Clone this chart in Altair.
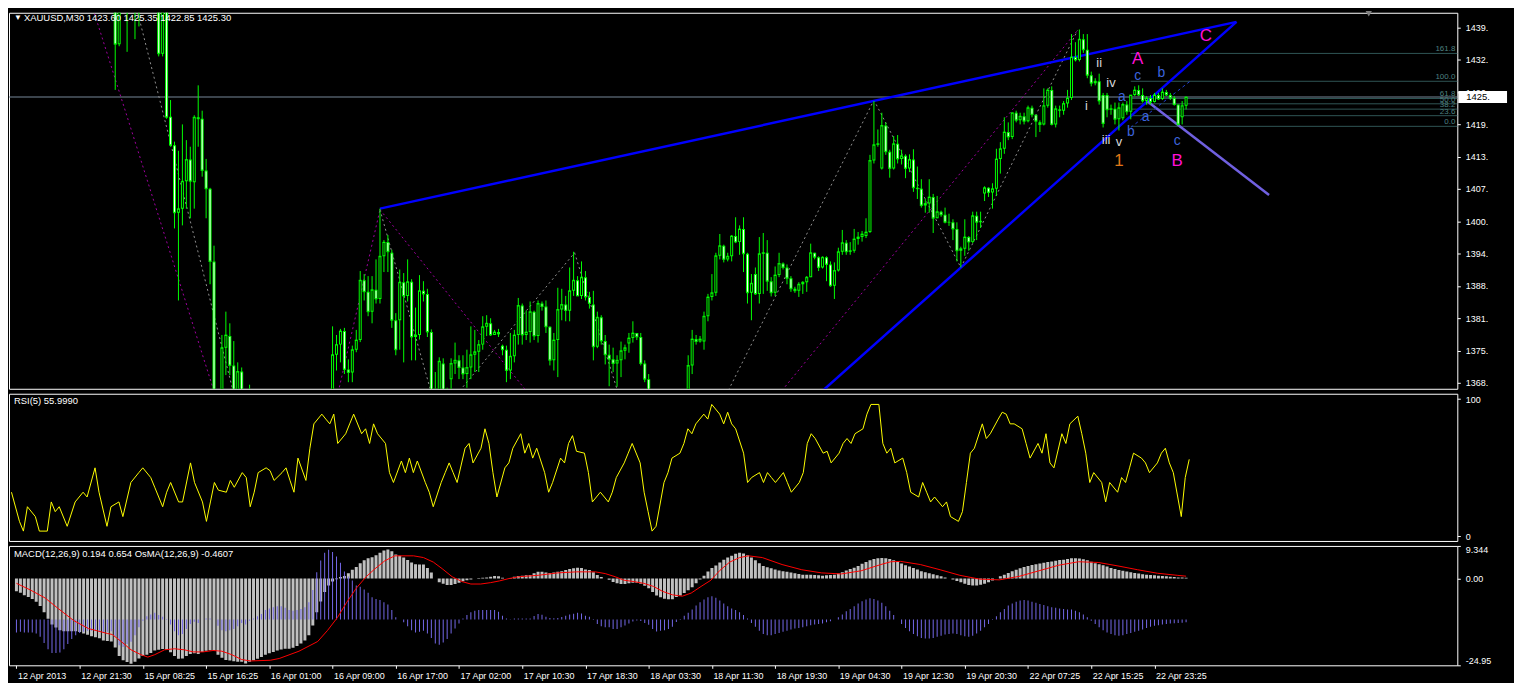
import json
import altair as alt
import pandas as pd

# ---------------- data ----------------
SYMBOL = "XAUUSD,M30"

open_ = [
1478.0,1477.0,1478.0,1475.0,1476.0,1473.0,1474.0,1472.0,1470.0,1471.0,
1468.0,1469.0,1470.0,1466.0,1467.0,1465.0,1468.0,1466.0,1471.0,1474.0,
1476.0,1470.0,1462.0,1455.0,1449.0,1448.0,1435.7,1445.0,1447.0,1444.0,
1446.0,1445.0,1447.0,1450.0,1453.0,1451.0,1448.0,1433.8,1443.0,1421.4,
1415.8,1402.5,1403.3,1408.7,1413.0,1408.5,1421.3,1421.0,1410.8,1407.2,
1392.9,1362.0,1366.0,1375.9,1378.2,1372.4,1366.0,1371.2,1366.5,1362.0,
1360.0,1355.0,1348.0,1340.0,1335.0,1330.0,1325.0,1328.0,1335.0,1338.0,
1342.0,1340.0,1345.0,1350.0,1348.0,1352.0,1355.0,1358.0,1356.0,1360.0,
1362.0,1374.5,1376.5,1379.2,1371.6,1371.0,1375.5,1377.4,1389.2,1386.9,
1383.0,1387.3,1385.5,1393.9,1396.7,1394.6,1381.3,1381.3,1388.8,1386.1,
1388.9,1378.0,1378.4,1387.1,1386.5,1379.0,1366.0,1366.0,1372.8,1366.0,
1369.7,1372.8,1373.4,1372.0,1370.7,1372.0,1374.5,1375.1,1376.5,1380.0,
1380.7,1378.4,1379.0,1376.3,1375.5,1371.4,1374.2,1378.4,1384.2,1378.4,
1379.0,1383.0,1378.2,1384.6,1384.0,1380.0,1373.4,1377.4,1383.4,1384.4,
1383.2,1387.1,1389.2,1386.1,1389.8,1385.9,1384.4,1376.1,1381.9,1377.2,
1374.5,1373.6,1372.8,1373.4,1375.3,1376.7,1377.8,1378.8,1378.0,1372.8,
1369.7,1366.0,1363.0,1360.0,1358.0,1361.0,1359.0,1357.0,1360.0,1362.0,
1364.0,1372.4,1377.6,1377.1,1377.1,1382.1,1385.9,1386.7,1394.0,1396.0,
1393.3,1393.9,1397.9,1396.7,1399.3,1394.4,1386.7,1390.4,1386.5,1394.4,
1394.6,1389.0,1386.7,1390.2,1392.5,1391.7,1389.6,1387.5,1387.1,1388.4,
1388.8,1389.8,1394.6,1393.7,1391.7,1393.7,1392.3,1388.1,1391.1,1394.8,
1396.6,1394.8,1395.0,1397.3,1397.7,1397.9,1398.7,1412.8,1415.9,1411.2,
1419.7,1414.5,1411.2,1416.1,1413.1,1413.7,1411.2,1413.0,1407.4,1407.2,
1403.9,1404.3,1405.6,1401.4,1402.7,1402.1,1400.6,1400.6,1399.3,1395.0,
1395.4,1397.7,1396.7,1401.9,1400.6,1406.3,1407.4,1406.5,1407.2,1413.1,
1415.1,1418.4,1417.4,1422.2,1420.7,1421.5,1420.5,1423.2,1421.8,1420.3,
1419.9,1423.6,1426.7,1419.9,1422.6,1422.6,1424.0,1425.1,1433.2,1432.6,
1436.7,1434.6,1429.6,1428.0,1428.4,1425.7,1425.7,1422.8,1423.0,1420.9,
1421.1,1423.8,1422.4,1425.7,1426.7,1425.7,1424.5,1425.1,1424.3,1425.7,
1424.9,1426.3,1425.7,1425.1,1423.8,1421.3,1423.60]

high = [
1481.0,1480.0,1479.5,1478.0,1477.0,1476.0,1475.0,1473.5,1473.0,1472.0,
1470.5,1472.0,1471.0,1469.0,1468.0,1469.5,1469.0,1472.5,1475.0,1478.0,
1479.0,1471.0,1464.0,1457.0,1452.0,1452.0,1447.0,1450.0,1449.0,1448.0,
1450.0,1451.0,1452.0,1455.0,1456.0,1454.0,1449.0,1445.0,1444.0,1424.7,
1416.5,1414.7,1419.9,1416.8,1415.5,1421.7,1427.6,1422.6,1413.1,1407.4,
1396.0,1367.0,1378.4,1383.0,1380.7,1377.2,1373.0,1372.0,1367.5,1368.6,
1362.0,1357.0,1350.0,1342.0,1337.0,1333.0,1330.0,1337.0,1340.0,1344.0,
1343.0,1347.0,1352.0,1351.0,1354.0,1357.0,1360.0,1359.0,1362.0,1364.0,
1380.1,1378.4,1379.6,1379.8,1373.6,1376.3,1379.4,1391.0,1390.4,1390.0,
1390.0,1393.3,1403.3,1397.1,1398.1,1395.2,1382.7,1391.3,1390.6,1393.3,
1389.4,1383.8,1390.2,1389.0,1387.5,1379.5,1371.1,1374.0,1373.8,1368.0,
1373.8,1376.9,1374.4,1374.4,1375.5,1380.1,1379.4,1377.4,1382.1,1382.3,
1381.7,1379.4,1379.6,1376.5,1376.3,1378.8,1379.4,1385.7,1384.6,1383.2,
1385.0,1383.2,1385.2,1385.0,1385.2,1380.1,1378.8,1387.7,1387.5,1386.1,
1391.7,1394.8,1390.0,1392.9,1391.0,1386.9,1387.1,1383.0,1382.3,1378.4,
1376.5,1375.9,1374.4,1377.1,1376.5,1378.8,1381.1,1378.8,1378.8,1373.4,
1370.7,1367.0,1364.0,1361.0,1362.5,1362.0,1360.0,1361.0,1363.0,1365.0,
1374.4,1379.4,1378.4,1378.2,1383.0,1386.5,1390.4,1394.6,1398.3,1396.2,
1394.6,1398.1,1401.6,1400.0,1401.6,1394.6,1390.4,1391.7,1397.7,1398.5,
1397.1,1389.8,1391.9,1394.6,1392.7,1392.3,1390.0,1387.9,1388.8,1389.0,
1390.0,1396.4,1394.6,1393.9,1393.9,1393.9,1392.9,1392.7,1395.6,1399.1,
1397.1,1396.7,1399.3,1398.7,1398.9,1401.4,1413.9,1424.5,1418.9,1422.2,
1420.3,1414.9,1417.6,1417.8,1414.9,1414.0,1414.0,1415.0,1411.6,1409.1,
1405.2,1409.1,1406.2,1405.8,1402.9,1403.5,1402.3,1401.2,1400.6,1395.8,
1401.2,1397.9,1402.7,1402.7,1402.7,1407.7,1407.5,1408.3,1415.1,1416.4,
1421.3,1420.3,1422.2,1422.6,1422.2,1422.2,1423.6,1423.6,1421.8,1420.7,
1427.0,1427.0,1427.4,1423.6,1423.6,1424.5,1426.7,1437.7,1436.1,1438.6,
1437.7,1437.7,1430.3,1429.0,1429.9,1426.1,1426.1,1423.8,1424.2,1424.2,
1424.2,1424.5,1425.7,1427.4,1427.6,1427.0,1425.5,1425.7,1426.1,1426.1,
1427.0,1426.7,1426.1,1425.5,1423.8,1424.5,1425.35]

low = [
1475.0,1474.5,1473.0,1473.5,1471.5,1472.0,1470.0,1468.5,1469.0,1466.5,
1466.0,1468.0,1465.0,1464.5,1463.0,1464.0,1464.5,1465.5,1470.0,1473.0,
1469.0,1460.0,1453.0,1447.0,1445.0,1426.7,1435.3,1443.0,1434.2,1443.0,
1436.7,1439.2,1444.0,1448.0,1449.0,1446.0,1433.3,1433.3,1421.0,1415.5,
1399.4,1385.2,1400.0,1403.3,1401.4,1403.3,1415.5,1409.6,1401.4,1388.4,
1358.0,1356.0,1364.0,1370.5,1370.5,1363.0,1364.0,1363.0,1360.0,1358.0,
1352.0,1346.0,1338.0,1332.0,1327.0,1322.0,1323.0,1327.0,1333.0,1336.0,
1337.0,1339.0,1344.0,1346.0,1347.0,1351.0,1354.0,1354.0,1355.0,1359.0,
1360.0,1371.4,1373.0,1370.7,1369.1,1369.1,1375.0,1377.0,1385.2,1382.1,
1380.7,1384.6,1384.6,1390.8,1390.8,1379.8,1374.4,1375.5,1373.0,1385.0,
1373.4,1373.4,1377.5,1385.0,1378.0,1364.0,1361.0,1364.0,1364.0,1363.0,
1367.0,1370.7,1369.7,1369.7,1368.0,1369.7,1371.1,1371.1,1375.5,1378.2,
1378.2,1378.4,1378.0,1374.4,1369.1,1369.7,1373.0,1376.5,1376.5,1377.4,
1376.9,1377.4,1376.9,1383.2,1378.8,1372.4,1371.4,1370.1,1381.3,1381.1,
1381.1,1386.1,1386.1,1385.5,1385.2,1383.6,1373.4,1375.8,1376.5,1372.6,
1368.3,1371.1,1368.2,1370.1,1373.6,1374.9,1376.9,1377.4,1372.4,1369.1,
1364.0,1361.0,1358.0,1356.0,1357.0,1357.5,1355.0,1356.0,1359.0,1361.0,
1362.0,1370.7,1376.5,1376.9,1375.5,1381.1,1385.2,1386.1,1393.3,1392.7,
1392.9,1392.9,1396.5,1394.2,1390.8,1384.6,1381.3,1386.3,1384.6,1386.5,
1387.1,1386.0,1386.1,1389.8,1391.3,1388.4,1386.9,1386.7,1385.9,1386.5,
1386.9,1389.8,1393.3,1391.0,1391.5,1389.0,1387.9,1385.5,1390.9,1394.2,
1394.2,1394.2,1394.6,1396.2,1396.8,1397.5,1398.5,1412.2,1415.5,1411.0,
1413.9,1409.4,1411.0,1412.2,1412.0,1409.3,1410.5,1406.6,1405.2,1403.5,
1402.5,1402.5,1398.5,1401.4,1401.7,1400.4,1399.9,1397.1,1392.9,1391.7,
1394.0,1395.0,1396.5,1397.1,1399.5,1404.8,1405.6,1403.3,1405.8,1410.2,
1414.1,1416.8,1417.0,1420.3,1419.9,1419.9,1420.3,1421.3,1417.4,1418.4,
1419.7,1423.2,1419.7,1419.3,1421.3,1421.8,1423.2,1424.7,1432.3,1432.3,
1434.0,1429.0,1427.4,1427.6,1423.8,1419.3,1421.3,1421.8,1419.9,1418.7,
1420.7,1421.8,1420.9,1425.5,1425.5,1424.2,1423.8,1423.8,1424.2,1424.7,
1424.7,1425.5,1424.7,1423.6,1419.7,1419.9,1422.85]

close = [
1477.0,1478.0,1475.0,1476.0,1473.0,1474.0,1472.0,1470.0,1471.0,1468.0,
1469.0,1470.0,1466.0,1467.0,1465.0,1468.0,1466.0,1471.0,1474.0,1476.0,
1470.0,1462.0,1455.0,1449.0,1448.0,1435.7,1445.0,1447.0,1444.0,1446.0,
1445.0,1447.0,1450.0,1453.0,1451.0,1448.0,1433.8,1443.0,1421.3,1415.8,
1402.5,1403.3,1408.7,1413.0,1408.7,1421.3,1421.0,1410.8,1407.2,1392.9,
1362.0,1366.0,1375.9,1378.4,1372.4,1366.0,1371.2,1366.5,1362.0,1360.0,
1355.0,1348.0,1340.0,1335.0,1330.0,1325.0,1328.0,1335.0,1338.0,1342.0,
1340.0,1345.0,1350.0,1348.0,1352.0,1355.0,1358.0,1356.0,1360.0,1362.0,
1374.5,1376.5,1379.2,1371.6,1371.0,1375.5,1377.4,1389.2,1386.9,1383.0,
1387.3,1385.5,1393.9,1396.7,1394.8,1381.3,1375.5,1388.8,1386.1,1388.9,
1378.0,1378.4,1387.1,1386.5,1379.0,1366.0,1364.0,1373.2,1366.0,1367.5,
1372.8,1373.4,1372.0,1370.7,1372.0,1374.5,1375.1,1376.5,1380.0,1380.7,
1378.4,1379.0,1378.6,1375.5,1371.4,1374.2,1378.4,1384.2,1378.4,1379.0,
1383.0,1378.2,1384.6,1384.0,1380.0,1373.4,1377.4,1383.4,1384.4,1383.2,
1387.1,1389.2,1386.1,1389.8,1385.9,1384.6,1376.1,1381.9,1377.2,1374.5,
1373.6,1372.8,1373.4,1375.3,1375.9,1377.8,1378.8,1378.0,1372.8,1369.7,
1366.0,1363.0,1360.0,1358.0,1361.0,1359.0,1357.0,1360.0,1362.0,1364.0,
1372.4,1377.6,1377.1,1377.6,1382.1,1385.9,1386.7,1394.0,1396.0,1393.3,
1393.9,1397.9,1396.7,1399.3,1394.4,1386.7,1388.6,1386.5,1394.4,1394.6,
1389.0,1386.7,1390.2,1392.5,1391.7,1389.6,1387.5,1387.1,1388.4,1388.8,
1389.8,1394.6,1393.7,1391.7,1393.7,1392.3,1388.1,1391.1,1394.8,1396.6,
1394.8,1395.0,1397.3,1397.7,1398.3,1398.7,1412.8,1415.9,1416.1,1419.7,
1414.5,1411.2,1416.1,1413.1,1413.7,1411.2,1413.0,1407.4,1407.2,1403.9,
1404.3,1405.6,1401.4,1402.7,1402.1,1400.6,1400.6,1399.3,1395.0,1395.4,
1397.7,1396.7,1401.9,1400.6,1400.8,1407.4,1406.5,1407.2,1413.1,1415.1,
1418.4,1417.4,1422.2,1420.7,1421.5,1420.5,1423.2,1421.8,1420.5,1419.9,
1423.6,1426.7,1419.9,1423.0,1422.8,1424.0,1425.1,1433.2,1432.6,1436.7,
1434.6,1429.6,1428.0,1428.4,1424.5,1420.1,1422.8,1423.0,1420.9,1423.2,
1423.8,1422.4,1425.7,1426.7,1425.7,1424.5,1425.1,1424.3,1425.7,1424.9,
1426.3,1425.7,1425.1,1423.8,1419.9,1423.6,1425.30]

price_ticks = [1368.95, 1375.32, 1381.69, 1388.06, 1394.43, 1400.80,
               1407.17, 1413.54, 1419.91, 1426.28, 1432.65, 1439.02]
current_price = 1425.30

x_tick_bars = [0, 16, 32, 48, 64, 80, 96, 112, 128, 144, 160, 176, 192,
               208, 224, 240, 256, 272, 288]
x_tick_labels = ["12 Apr 2013", "12 Apr 21:30", "15 Apr 08:25", "15 Apr 16:25",
                 "16 Apr 01:00", "16 Apr 09:00", "16 Apr 17:00", "17 Apr 02:00",
                 "17 Apr 10:30", "17 Apr 18:30", "18 Apr 03:30", "18 Apr 11:30",
                 "18 Apr 19:30", "19 Apr 04:30", "19 Apr 12:30", "19 Apr 20:30",
                 "22 Apr 07:25", "22 Apr 15:25", "22 Apr 23:25"]

fib_levels = ["0.0", "23.6", "38.2", "50.0", "61.8", "100.0", "161.8"]
fib_prices = [1419.52, 1421.62, 1422.91, 1423.96, 1425.01, 1428.40, 1433.89]
fib_start_bar = 282

# trend lines (bar index, price)
channel_seg = ["up", "up", "low", "low"]
channel_bar = [92, 308.75, 204, 308.75]
channel_price = [1403.3, 1440.1, 1367.4, 1440.1]
bline_bar = [286.25, 317]
bline_price = [1424.4, 1406.0]
dash_bar = [282, 297]
dash_price = [1419.3, 1428.4]

purple_seg = ["p1", "p1", "p2", "p2", "p3", "p3", "p4", "p4"]
purple_bar = [17.5, 52.4, 79.75, 92, 92, 135.25, 187.35, 268.5]
purple_price = [1447.3, 1361.4, 1361.4, 1403.1, 1403.1, 1361.4, 1361.4, 1438.4]
gray_seg = ["g1", "g1", "g2", "g2", "g3", "g3", "g4", "g4", "g5", "g5", "g6", "g6", "g7", "g7"]
gray_bar = [29.25, 56.75, 92, 107, 105.75, 141.25, 141.25, 154.5, 176.25, 217, 217, 239, 239, 268.5]
gray_price = [1446.4, 1361.4, 1403.1, 1361.4, 1361.4, 1394.6, 1394.6, 1361.4, 1361.4, 1424.7,
              1424.7, 1391.7, 1391.7, 1438.4]

# Elliott wave labels
big_text = ["A", "C", "B"]
big_bar = [283.75, 301, 293.75]
big_price = [1432.8, 1437.3, 1412.6]
one_text = ["1"]
one_bar = [279]
one_price = [1412.6]
roman_text = ["ii", "iv", "i", "iii", "v"]
roman_bar = [274, 277, 270.75, 275.75, 279]
roman_price = [1431.9, 1428.0, 1423.6, 1416.8, 1416.4]
minor_text = ["c", "b", "a", "a", "b", "c"]
minor_bar = [283.75, 289.75, 279.75, 285.75, 282, 293.75]
minor_price = [1429.4, 1430.0, 1425.3, 1421.3, 1418.4, 1416.6]

# RSI(5): (bar, value)
rsi_points = [
(0,32.0),(2,10.7),(3,3.6),(4,21.4),(6,14.2),(7,3.6),(9,3.6),(10,24.9),(11,17.8),(12,21.4),
(14,7.1),(16,24.9),(18,32.0),(19,28.5),(21,49.8),(22,32.0),(24,7.1),(25,21.4),(27,24.9),(28,14.2),
(30,39.1),(32,46.3),(33,49.8),(35,42.7),(36,35.6),(38,21.4),(39,32.0),(40,39.1),(42,24.9),(43,24.9),
(45,53.4),(46,39.1),(48,24.9),(49,10.7),(50,24.9),(51,39.1),(52,33.5),(54,32.0),(55,40.6),(56,35.6),
(58,46.3),(59,42.7),(60,21.4),(61,32.0),(62,46.3),(64,49.8),(65,47.7),(66,40.6),(68,46.3),(69,49.8),
(70,40.6),(71,32.0),(72,56.9),(74,40.6),(75,64.1),(76,81.9),(78,89.0),(79,85.4),(80,81.9),(81,89.0),
(82,67.6),(84,74.7),(85,81.9),(86,89.0),(88,74.7),(89,78.3),(90,67.6),(91,81.9),(92,74.7),(94,67.6),
(95,46.3),(96,39.1),(98,54.8),(99,46.3),(100,56.9),(101,46.3),(102,54.8),(104,39.1),(105,32.0),(106,21.4),
(108,39.1),(109,46.3),(110,53.4),(111,46.3),(112,39.1),(114,64.1),(115,67.6),(116,53.4),(118,64.1),(119,78.3),
(120,67.6),(121,46.3),(122,28.5),(124,49.8),(125,53.4),(126,64.1),(128,74.7),(129,60.5),(130,67.6),(131,56.9),
(132,64.1),(134,46.3),(135,32.0),(136,39.1),(138,56.9),(139,53.4),(140,67.6),(141,73.3),(142,61.9),(144,60.5),
(145,46.3),(146,24.9),(148,32.0),(149,28.5),(150,24.9),(151,32.0),(152,42.7),(154,53.4),(155,60.5),(156,67.6),
(158,53.4),(159,32.0),(160,17.8),(161,3.6),(162,7.1),(164,39.1),(165,46.3),(166,56.9),(168,60.5),(169,67.6),
(170,78.3),(171,74.7),(172,81.9),(174,89.0),(175,85.4),(176,96.1),(178,89.0),(179,81.9),(180,90.4),(181,81.9),
(182,78.3),(184,60.5),(185,39.1),(186,42.7),(188,46.3),(189,39.1),(190,46.3),(191,42.7),(192,39.1),(194,46.3),
(195,39.1),(196,32.0),(198,39.1),(199,46.3),(200,67.6),(201,74.7),(202,71.2),(204,60.5),(205,61.9),(206,53.4),
(208,60.5),(209,67.6),(210,71.2),(211,67.6),(212,74.7),(214,78.3),(215,89.0),(216,96.1),(218,96.1),(219,67.6),
(220,60.5),(221,64.1),(222,53.4),(224,56.9),(225,46.3),(226,32.0),(228,28.5),(229,39.1),(230,32.0),(231,24.9),
(232,28.5),(234,21.4),(235,24.9),(236,14.2),(238,10.7),(239,17.8),(240,39.1),(241,60.5),(242,64.1),(244,81.9),
(245,71.2),(246,74.7),(248,85.4),(249,90.4),(250,89.0),(251,81.9),(252,81.9),(254,78.3),(255,67.6),(256,56.9),
(258,67.6),(259,60.5),(260,74.7),(261,53.4),(262,49.8),(264,74.7),(265,67.6),(266,81.9),(268,87.5),(269,74.7),
(270,60.5),(271,39.1),(272,46.3),(274,39.1),(275,24.9),(276,39.1),(278,32.0),(279,42.7),(280,39.1),(281,49.8),
(282,60.5),(284,56.9),(285,53.4),(286,46.3),(288,53.4),(289,60.5),(290,64.1),(291,53.4),(292,46.3),(294,14.2),
(295,42.7),(296,55.999)]
rsi_bar = [b for b, _ in rsi_points]
rsi_val = [v for _, v in rsi_points]

# MACD(12,26,9) main line, one value per bar (drawn as histogram)
macd_val = [
-3.7,-4.1,-4.8,-5.3,-5.9,-6.7,-7.9,-9.7,-11.6,-13.2,
-14.1,-14.9,-15.2,-15.2,-15.2,-15.2,-15.4,-15.8,-16.2,-16.6,
-16.9,-17.2,-17.8,-18.0,-18.1,-19.8,-22.3,-23.5,-24.0,-24.5,
-23.9,-23.0,-22.3,-21.9,-21.4,-20.7,-20.5,-20.3,-20.5,-21.2,
-22.3,-23.1,-23.0,-22.3,-21.7,-21.5,-21.7,-21.1,-20.8,-20.6,
-20.7,-21.9,-22.8,-23.4,-23.6,-23.8,-23.9,-23.9,-24.4,-23.9,
-23.5,-23.1,-22.6,-21.9,-21.5,-21.1,-20.7,-20.4,-20.2,-20.2,
-19.9,-19.4,-18.7,-17.8,-16.3,-13.5,-9.7,-6.6,-3.9,-2.0,
-0.9,-0.2,0.4,0.7,1.5,2.5,3.3,4.4,5.2,5.8,
6.1,6.7,7.4,8.0,8.3,7.8,6.9,6.5,6.0,5.3,
4.6,4.1,4.0,4.0,3.0,1.7,0.0,-1.1,-1.5,-1.9,
-1.9,-1.6,-1.2,-0.8,-0.5,-0.3,0.0,0.1,0.2,0.3,
0.5,0.7,0.6,0.2,0.0,0.1,0.5,0.7,0.8,0.9,
1.0,1.5,1.9,1.9,1.7,1.6,1.7,1.9,2.1,2.4,
2.7,2.9,3.1,3.0,2.6,2.4,1.8,1.0,0.4,0.0,
-0.4,-1.0,-1.4,-1.6,-1.6,-1.4,-1.2,-1.2,-1.5,-2.1,
-2.8,-3.9,-4.9,-5.4,-5.8,-6.0,-6.0,-5.3,-4.9,-4.2,
-3.4,-2.5,-1.4,-0.3,0.8,2.0,3.0,3.7,4.6,5.4,
6.0,6.5,7.1,7.4,7.2,6.7,6.0,5.2,4.4,3.6,
3.2,2.9,2.6,2.3,2.1,1.9,1.7,1.5,1.3,1.1,
1.1,1.1,1.0,0.9,0.8,0.9,1.0,1.1,1.4,1.8,
2.3,2.7,3.1,3.6,4.2,4.7,5.2,5.6,5.8,5.9,
5.8,5.6,5.2,4.7,4.3,3.8,3.4,3.0,2.6,2.1,
1.8,1.5,1.2,0.9,0.6,0.3,0.0,-0.3,-0.7,-1.1,
-1.5,-1.9,-2.0,-2.0,-1.8,-1.5,-1.1,-0.6,0.0,0.6,
1.1,1.6,2.1,2.5,2.9,3.3,3.6,3.9,4.1,4.3,
4.5,4.7,4.9,5.1,5.3,5.4,5.6,5.8,5.8,5.7,
5.5,5.2,4.8,4.4,4.1,3.8,3.4,3.0,2.7,2.4,
2.2,2.0,1.8,1.6,1.4,1.2,1.1,1.0,0.9,0.8,
0.7,0.6,0.5,0.4,0.3,0.25,0.194]

# signal line: (bar, value)
signal_points = [
(0,-1.4),(3.5,-3.3),(7.25,-5.6),(10.75,-8.8),(14.5,-12.1),(18.25,-14.4),(23,-15.8),(24.25,-16.1),
(26.5,-18.1),(29,-20.5),(31.5,-21.9),(33.25,-22.6),(35,-21.9),(37.5,-20.5),(40,-20.2),(42.5,-20.5),
(44.75,-21.1),(47.25,-21.1),(49.75,-20.7),(52,-20.9),(54.5,-21.9),(57,-23.3),(59.25,-23.7),(64.25,-23.5),
(66.5,-23.0),(71.5,-20.9),(76.25,-18.1),(78.75,-14.9),(81.25,-11.2),(83.5,-7.0),(86,-2.8),(88.5,0.5),
(90.75,2.8),(93.25,5.1),(95.75,6.5),(100.5,6.5),(103,6.0),(105.5,4.7),(107.75,2.8),(110.25,0.5),
(112.75,-0.9),(115,-1.6),(117.5,-1.6),(120,-1.2),(122.25,-0.7),(124.75,0.0),(127.25,0.5),(132,0.9),
(137,1.6),(141.75,1.9),(146.5,1.9),(149,1.4),(151.5,0.5),(153.75,-0.5),(156.25,-0.9),(158.75,-1.4),
(161.25,-2.3),(163.5,-3.7),(166,-4.7),(168.5,-5.1),(170.75,-4.2),(173.25,-2.3),(175.75,-0.5),(178,2.3),
(180.5,4.7),(183,6.0),(185.25,6.5),(188.75,6.0),(193.75,4.0),(198.75,2.5),(203.75,1.6),(208.75,1.3),
(213.75,2.2),(218.75,4.0),(221.25,4.8),(223.75,4.9),(228.75,4.0),(233.75,2.5),(238.75,0.9),(243.75,-0.2),
(248.75,-0.4),(253.75,0.6),(258.75,2.2),(263.75,3.8),(268.75,4.8),(273.75,4.6),(278.75,3.6),(283.75,2.5),
(288.75,1.5),(293.75,0.9),(296,0.654)]
signal_bar = [b for b, _ in signal_points]
signal_val = [v for _, v in signal_points]

# OsMA(12,26,9), one value per bar
osma_val = [
-2.3,-2.2,-2.3,-2.3,-2.3,-2.5,-3.1,-4.2,-5.3,-6.0,
-6.0,-5.9,-5.3,-4.4,-3.5,-2.8,-2.4,-2.2,-2.0,-2.0,
-2.0,-2.0,-2.3,-2.2,-2.1,-3.0,-4.6,-4.9,-4.4,-4.0,
-2.8,-1.4,-0.2,0.6,0.9,1.2,0.8,0.5,-0.1,-0.9,
-2.1,-2.8,-2.6,-1.7,-0.8,-0.4,-0.6,0.0,0.2,0.2,
0.0,-1.1,-1.9,-2.1,-1.9,-1.7,-1.2,-0.6,-0.9,-0.2,
0.2,0.6,1.0,1.7,2.0,2.2,2.4,2.4,2.1,1.7,
1.6,1.7,1.9,2.2,3.1,5.3,8.5,10.6,12.0,12.5,
12.1,11.3,10.2,8.6,7.7,7.0,6.1,5.9,5.4,4.8,
4.0,3.7,3.5,3.1,2.7,1.7,0.4,0.0,-0.5,-1.2,
-1.9,-2.3,-2.2,-2.0,-2.5,-3.3,-4.3,-4.5,-4.1,-3.5,
-2.5,-1.6,-0.7,0.2,0.8,1.3,1.6,1.7,1.7,1.7,
1.7,1.7,1.4,0.7,0.2,0.05,0.2,0.2,0.2,0.2,
0.2,0.65,1.0,0.85,0.5,0.3,0.25,0.3,0.45,0.7,
0.9,1.05,1.2,1.1,0.7,0.5,-0.1,-0.8,-1.2,-1.4,
-1.4,-1.7,-1.7,-1.4,-1.05,-0.7,-0.35,-0.15,-0.25,-0.6,
-0.95,-1.7,-2.15,-2.0,-1.9,-1.7,-1.3,-0.45,0.1,0.7,
1.2,1.8,2.5,3.1,3.6,4.0,4.2,3.9,3.4,2.9,
2.4,2.0,1.7,1.3,0.8,0.2,-0.6,-1.3,-2.0,-2.6,
-2.8,-2.8,-2.6,-2.4,-2.2,-2.0,-1.8,-1.6,-1.5,-1.4,
-1.2,-1.0,-0.9,-0.8,-0.7,-0.5,-0.3,0.0,0.4,0.9,
1.5,1.9,2.4,2.9,3.3,3.6,3.8,3.7,3.4,3.0,
2.4,1.6,0.8,0.0,-0.8,-1.5,-2.1,-2.6,-3.0,-3.3,
-3.4,-3.4,-3.3,-3.1,-2.9,-2.7,-2.6,-2.5,-2.6,-2.8,
-3.0,-3.1,-2.9,-2.5,-2.0,-1.4,-0.8,-0.1,0.6,1.3,
1.9,2.5,2.9,3.2,3.4,3.5,3.4,3.2,3.0,2.8,
2.6,2.4,2.2,2.1,2.0,1.9,1.8,1.8,1.6,1.3,
0.9,0.4,-0.2,-0.8,-1.4,-1.9,-2.3,-2.6,-2.8,-2.9,
-2.8,-2.6,-2.4,-2.2,-2.0,-1.8,-1.5,-1.3,-1.1,-1.0,
-0.9,-0.8,-0.7,-0.65,-0.6,-0.55,-0.4607]

# ---------------- layout / style ----------------
W = 1456
H_MAIN, H_RSI, H_MACD = 378, 148, 120
XD = [-0.625, -0.625 + W / 4]
FONT = "Liberation Sans, Arial, sans-serif"
LIME = "#00FF00"

x_scale = alt.Scale(domain=XD, nice=False, zero=False)
y_main = alt.Scale(domain=[1367.8, 1441.9], nice=False, zero=False)
y_rsi = alt.Scale(domain=[-3.6, 103.9], nice=False, zero=False)
y_macd = alt.Scale(domain=[-24.95, 9.344], nice=False, zero=False)
y_osma = alt.Scale(domain=[-8.2, 13.2], nice=False, zero=False)

main_axis = alt.Axis(orient="right", values=price_ticks, labelExpr="floor(datum.value) + '.'",
                     tickSize=3, labelPadding=5, title=None)
x_axis = alt.Axis(values=x_tick_bars, tickSize=3, labelAlign="left", labelPadding=3, labelOffset=1,
                  labelOverlap=False, labelFlush=False, labelBound=False, title=None,
                  labelExpr=f"{json.dumps(x_tick_labels)}[round(datum.value / 16)]")


def X(field, axis=None):
    return alt.X(f"{field}:Q", scale=x_scale, axis=axis)


def YM(field):
    return alt.Y(f"{field}:Q", scale=y_main, axis=main_axis)


bars = pd.DataFrame({"i": range(len(close)), "o": open_, "h": high, "l": low, "c": close})
bars["top"] = bars[["o", "c"]].max(axis=1)
bars["bot"] = bars[["o", "c"]].min(axis=1)
bars["kind"] = ["bear" if c < o else "bull" for o, c in zip(open_, close)]

cur = pd.DataFrame({"p": [current_price], "label": [f"{int(current_price)}."]})
cur_line = alt.Chart(cur).mark_rule(color="#778899", strokeWidth=1).encode(y=YM("p"))

fib = pd.DataFrame({"p": fib_prices, "label": fib_levels, "start": fib_start_bar})
fib_lines = alt.Chart(fib).mark_rule(color="#2F5656", strokeWidth=1).encode(
    x=X("start"), x2=alt.value(W), y=YM("p"))
fib_text = alt.Chart(fib).mark_text(align="right", baseline="bottom", dy=0, fontSize=8,
                                    font=FONT, color="#4E8080").encode(
    x=alt.value(W - 2), y=YM("p"), text="label:N")

zz_purple = alt.Chart(pd.DataFrame({"seg": purple_seg, "bar": purple_bar, "price": purple_price})).mark_line(
    color="#A000A0", strokeWidth=1, strokeDash=[2, 3], clip=True).encode(
    x=X("bar"), y=YM("price"), detail="seg:N")
zz_gray = alt.Chart(pd.DataFrame({"seg": gray_seg, "bar": gray_bar, "price": gray_price})).mark_line(
    color="#909090", strokeWidth=1, strokeDash=[2, 3], clip=True).encode(
    x=X("bar"), y=YM("price"), detail="seg:N")
channel = alt.Chart(pd.DataFrame({"seg": channel_seg, "bar": channel_bar, "price": channel_price})).mark_line(
    color="#0000FF", strokeWidth=2.5, clip=True).encode(
    x=X("bar"), y=YM("price"), detail="seg:N")
bline = alt.Chart(pd.DataFrame({"bar": bline_bar, "price": bline_price})).mark_line(
    color="#7060E0", strokeWidth=2.5, clip=True).encode(x=X("bar"), y=YM("price"))
dline = alt.Chart(pd.DataFrame({"bar": dash_bar, "price": dash_price})).mark_line(
    color="#2040D0", strokeWidth=1, strokeDash=[3, 3], clip=True).encode(x=X("bar"), y=YM("price"))

wick = alt.Chart(bars).mark_rule(color=LIME, strokeWidth=1, clip=True).encode(
    x=X("i"), y=YM("l"), y2=alt.Y2("h:Q"))
body = alt.Chart(bars).mark_bar(width=3, color=LIME, clip=True).encode(
    x=X("i"), y=YM("top"), y2=alt.Y2("bot:Q"))
doji = alt.Chart(bars).mark_tick(orient="horizontal", size=3, thickness=1, color=LIME, clip=True).encode(
    x=X("i"), y=YM("c"))
inner = alt.Chart(bars).transform_filter("datum.top - datum.bot > 0.45").mark_bar(
    width=1, yOffset=1, y2Offset=-1, clip=True).encode(
    x=X("i"), y=YM("top"), y2=alt.Y2("bot:Q"),
    color=alt.Color("kind:N", scale=alt.Scale(domain=["bear", "bull"], range=["#FFFFFF", "#000000"]),
                    legend=None))


def wave_text(texts, bars_, prices, color, size):
    df = pd.DataFrame({"t": texts, "bar": bars_, "price": prices})
    return alt.Chart(df).mark_text(color=color, fontSize=size, font="Liberation Sans, Arial",
                                   align="center", baseline="middle").encode(
        x=X("bar"), y=YM("price"), text="t:N")


big_lbl = wave_text(big_text, big_bar, big_price, "#FF10D8", 17)
one_lbl = wave_text(one_text, one_bar, one_price, "#E07818", 17)
roman_lbl = wave_text(roman_text, roman_bar, roman_price, "#D8D8D8", 13)
minor_lbl = wave_text(minor_text, minor_bar, minor_price, "#3C64DC", 14)

hdr = pd.DataFrame({"t": [f"{SYMBOL} {open_[-1]:.2f} {high[-1]:.2f} {low[-1]:.2f} {close[-1]:.2f}"]})
header_tri = alt.Chart(hdr).mark_text(text="\u25BC", color="#FFFFFF", fontSize=8, align="left",
                                      baseline="middle").encode(x=alt.value(5), y=alt.value(5))
header = alt.Chart(hdr).mark_text(color="#FFFFFF", fontSize=9.5, font=FONT, align="left",
                                  baseline="middle").encode(x=alt.value(15), y=alt.value(5), text="t:N")
box = alt.Chart(cur).mark_rule(color="#FFFFFF", strokeWidth=12, strokeCap="butt").encode(
    x=alt.value(W + 1), x2=alt.value(W + 50), y=YM("p"))
box_text = alt.Chart(cur).mark_text(color="#000000", fontSize=9.5, font=FONT, align="left",
                                    baseline="middle").encode(x=alt.value(W + 9), y=YM("p"), text="label:N")
shift_mark = alt.Chart(hdr).mark_point(shape="triangle-down", filled=True, color="#808080",
                                       size=40, opacity=1).encode(x=alt.value(1367), y=alt.value(1))

main = alt.layer(cur_line, fib_lines, fib_text, zz_gray, zz_purple, channel, bline, dline,
                 wick, body, doji, inner, big_lbl, one_lbl, roman_lbl, minor_lbl,
                 header_tri, header, box, box_text, shift_mark).properties(width=W, height=H_MAIN)

# RSI panel
rsi_df = pd.DataFrame({"i": rsi_bar, "v": rsi_val})
rsi_line = alt.Chart(rsi_df).mark_line(color="#FFFF00", strokeWidth=1, clip=True).encode(
    x=X("i"), y=alt.Y("v:Q", scale=y_rsi,
                      axis=alt.Axis(orient="right", values=[0, 100], tickSize=3, labelPadding=5,
                                    title=None)))
rsi_hdr = alt.Chart(pd.DataFrame({"t": [f"RSI(5) {rsi_val[-1]:.4f}"]})).mark_text(
    color="#FFFFFF", fontSize=9.5, font=FONT, align="left", baseline="middle").encode(
    x=alt.value(5), y=alt.value(7), text="t:N")
rsi = alt.layer(rsi_line, rsi_hdr).properties(width=W, height=H_RSI)

# MACD panel
macd_ticks = [9.344, 0.0, -24.95]
macd_tick_labels = ["9.344", "0.00", "-24.95"]
macd_axis = alt.Axis(orient="right", values=macd_ticks, tickSize=3, labelPadding=5, title=None,
                     labelFlush=True,
                     labelExpr=f"{json.dumps(macd_tick_labels)}[indexof({json.dumps(macd_ticks)}, datum.value)]")

ind = pd.DataFrame({"i": range(len(macd_val)), "macd": macd_val, "osma": osma_val})
macd_hist = alt.Chart(ind).mark_bar(width=3, color="#C0C0C0", clip=True).encode(
    x=X("i", x_axis), y=alt.Y("macd:Q", scale=y_macd, axis=macd_axis), y2=alt.datum(0))
osma = alt.Chart(ind).mark_bar(width=1, color="#7468E8", clip=True).encode(
    x=X("i", x_axis), y=alt.Y("osma:Q", scale=y_osma, axis=None), y2=alt.datum(0))
signal = alt.Chart(pd.DataFrame({"i": signal_bar, "v": signal_val})).mark_line(
    color="#FF0000", strokeWidth=1, clip=True).encode(
    x=X("i", x_axis), y=alt.Y("v:Q", scale=y_macd, axis=None))
macd_hdr = alt.Chart(pd.DataFrame({"t": [
    f"MACD(12,26,9) {macd_val[-1]:.3f} {signal_val[-1]:.3f}  OsMA(12,26,9) {osma_val[-1]:.4f}"]})).mark_text(
    color="#FFFFFF", fontSize=9.5, font=FONT, align="left", baseline="middle").encode(
    x=alt.value(5), y=alt.value(8), text="t:N")
macd = alt.layer(macd_hist, osma, signal, macd_hdr).resolve_scale(y="independent").properties(
    width=W, height=H_MACD)

chart = alt.vconcat(main, rsi, macd, spacing=3).properties(padding=0).configure(
    background="#000000").configure_view(stroke="#FFFFFF", strokeWidth=1, fill="#000000").configure_axis(
    labelColor="#FFFFFF", tickColor="#FFFFFF", labelFont=FONT, labelFontSize=9, domain=False,
    grid=False)

chart.save("out.html", embed_options={"renderer": "svg", "actions": False})
